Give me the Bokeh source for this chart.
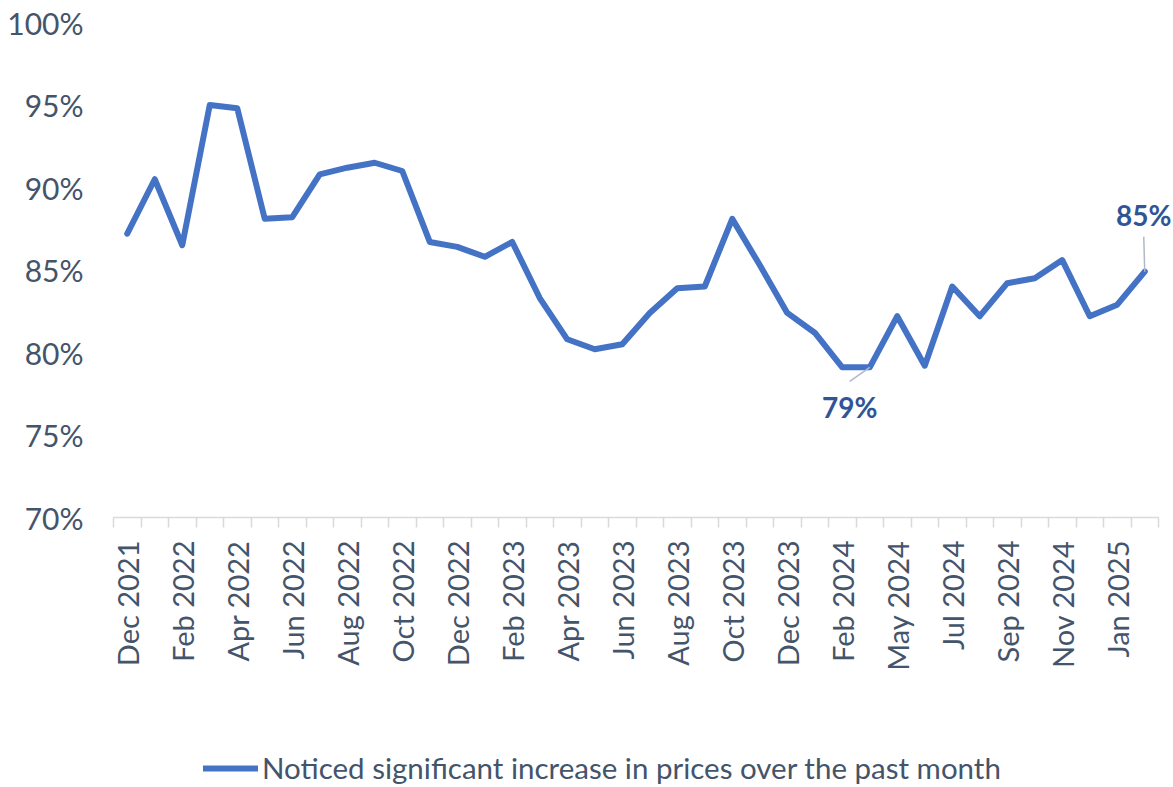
import math
from bokeh.plotting import figure
from bokeh.layouts import column
from bokeh.models import (FixedTicker, Legend, LegendItem, Label, ColumnDataSource)
from bokeh.embed import file_html
from bokeh.resources import INLINE

months = ["Dec 2021", "Jan 2022", "Feb 2022", "Mar 2022", "Apr 2022", "May 2022",
          "Jun 2022", "Jul 2022", "Aug 2022", "Sep 2022", "Oct 2022", "Nov 2022",
          "Dec 2022", "Jan 2023", "Feb 2023", "Mar 2023", "Apr 2023", "May 2023",
          "Jun 2023", "Jul 2023", "Aug 2023", "Sep 2023", "Oct 2023", "Nov 2023",
          "Dec 2023", "Jan 2024", "Feb 2024", "Mar 2024", "May 2024", "Jun 2024",
          "Jul 2024", "Aug 2024", "Sep 2024", "Oct 2024", "Nov 2024", "Dec 2024",
          "Jan 2025", "Feb 2025"]
noticed = [87.2, 90.5, 86.5, 95.0, 94.8, 88.1, 88.2, 90.8, 91.2, 91.5, 91.0, 86.7,
           86.4, 85.8, 86.7, 83.3, 80.8, 80.2, 80.5, 82.4, 83.9, 84.0, 88.1, 85.3,
           82.4, 81.2, 79.1, 79.1, 82.2, 79.2, 84.0, 82.2, 84.2, 84.5, 85.6, 82.2,
           82.9, 84.9]
series_name = "Noticed significant increase in prices over the past month"
y_ticks = [70, 75, 80, 85, 90, 95, 100]
labelled = [(27, "79%"), (37, "85%")]

FONT = "Lato"
TXT = "#44546A"
LINE = "#4472C4"
LAB = "#2F5597"

W, H1, H2 = 1173, 747, 40
BL, BR, BT = 113, 0, 22
FH = 495
BB = H1 - BT - FH
n = len(months)
pxx = 1045 / n          # pixels per category
pxy = FH / 30.0         # pixels per percentage point
x_hi = n - 0.5 + (W - BL - BR - 1045) / pxx
x = list(range(n))

p = figure(width=W, height=H1, output_backend="svg", toolbar_location=None,
           x_range=(-0.5, x_hi), y_range=(70, 100),
           min_border_left=BL, min_border_right=BR, min_border_top=BT,
           min_border_bottom=BB)
p.outline_line_color = None
p.xgrid.visible = False
p.ygrid.visible = False

src = ColumnDataSource(dict(x=x, y=noticed))
r = p.line("x", "y", source=src, line_width=6, line_color=LINE,
           line_join="round", line_cap="round")

# y axis
p.yaxis.ticker = FixedTicker(ticks=y_ticks)
p.yaxis.major_label_overrides = {t: f"{t}%" for t in y_ticks}
p.yaxis.axis_line_color = None
p.yaxis.major_tick_line_color = None
p.yaxis.minor_tick_line_color = None
p.yaxis.major_tick_out = 0
p.yaxis.major_tick_in = 0
p.yaxis.minor_tick_out = 0
p.yaxis.major_label_standoff = 30
p.yaxis.major_label_text_font = FONT
p.yaxis.major_label_text_font_size = "30px"
p.yaxis.major_label_text_color = TXT

# x axis
major = list(range(0, n, 2))
p.xaxis.bounds = (-0.5, n - 0.5)
p.xaxis.ticker = FixedTicker(ticks=major, minor_ticks=[i - 0.5 for i in range(n + 1)])
p.xaxis.major_label_overrides = {i: months[i] for i in major}
p.xaxis.axis_line_color = "#D9D9D9"
p.xaxis.axis_line_width = 1.5
p.xaxis.major_tick_line_color = None
p.xaxis.major_tick_out = 0
p.xaxis.major_tick_in = 0
p.xaxis.minor_tick_line_color = "#D9D9D9"
p.xaxis.minor_tick_line_width = 1.5
p.xaxis.minor_tick_out = 10
p.xaxis.minor_tick_in = 0
p.xaxis.major_label_orientation = math.pi / 2
p.xaxis.major_label_standoff = 13
p.xaxis.major_label_text_font = FONT
p.xaxis.major_label_text_font_size = "29px"
p.xaxis.major_label_text_color = TXT

# data labels with leader lines
offsets = {27: ((-20, 14), (-20, 40)), 37: ((-1, -35), (-1, -57))}
for idx, txt in labelled:
    (lx, ly), (tx, ty) = offsets[idx]
    x0, y0 = idx, noticed[idx]
    p.segment(x0=[x0], y0=[y0], x1=[x0 + lx / pxx], y1=[y0 - ly / pxy],
              line_color="#ADB9CA", line_width=1.5)
    p.add_layout(Label(x=x0 + tx / pxx, y=y0 - ty / pxy, text=txt,
                       text_font=FONT, text_font_style="bold",
                       text_font_size="28px", text_color=LAB,
                       text_align="center", text_baseline="middle"))

# legend row
p2 = figure(width=W, height=H2, output_backend="svg", toolbar_location=None,
            x_axis_type=None, y_axis_type=None, x_range=(0, 1), y_range=(0, 1),
            min_border=0)
p2.outline_line_color = None
p2.xgrid.visible = False
p2.ygrid.visible = False
r2 = p2.line([5, 6], [5, 6], line_width=6, line_color=LINE, line_cap="round")
legend = Legend(items=[LegendItem(label=series_name, renderers=[r2])],
                location=(90, 2))
legend.border_line_color = None
legend.background_fill_alpha = 0
legend.padding = 0
legend.margin = 0
legend.glyph_width = 55
legend.glyph_height = 24
legend.label_height = 24
legend.label_standoff = 4
legend.label_text_font = FONT
legend.label_text_font_size = "29.5px"
legend.label_text_color = TXT
p2.add_layout(legend, "center")

open("out.html", "w").write(file_html(column(p, p2), INLINE))
